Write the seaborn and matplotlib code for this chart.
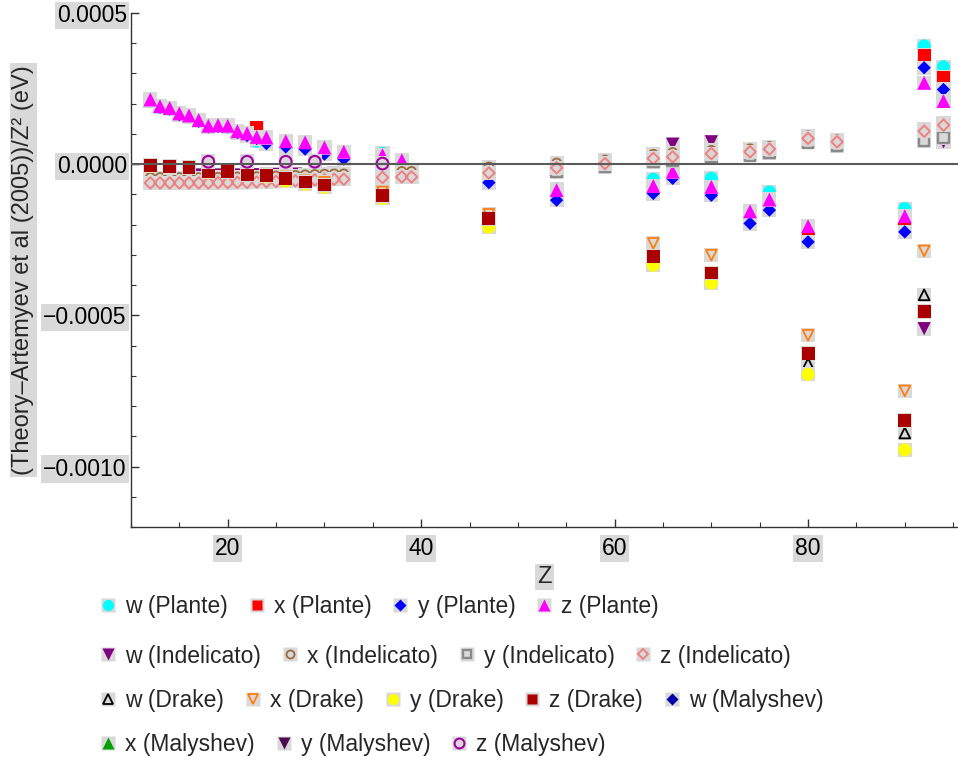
import numpy as np
import pandas as pd
import matplotlib
matplotlib.use("Agg")
import matplotlib.pyplot as plt
import seaborn as sns
from matplotlib.lines import Line2D
from matplotlib.legend_handler import HandlerTuple
from matplotlib.ticker import FixedLocator, MultipleLocator, FuncFormatter

# values in units of 1e-4 eV
UNIT = 1e-4

# Plante
Z_PL = [12, 13, 14, 15, 16, 17, 18, 19, 20, 21, 22, 23, 24, 26, 28, 30, 32, 36, 38,
        47, 54, 64, 66, 70, 74, 76, 80, 90, 92, 94]
w_PL = [2.12, 1.90, 1.84, 1.66, 1.59, 1.44, 1.25, 1.27, 1.25, 1.07, 0.97, 0.76, 0.74, 0.70, 0.66, 0.49, 0.36, 0.36, 0.15,
        -0.15, -0.83, -0.50, -0.22, -0.47, -1.55, -0.92, -2.05, -1.47, 3.91, 3.22]
x_PL = [2.15, 1.93, 1.87, 1.69, 1.62, 1.47, 1.28, 1.30, 1.28, 1.10, 1.01, 1.21, 0.87, 0.74, 0.70, 0.53, 0.39, 0.30, 0.12,
        -0.20, -0.88, -0.72, -0.25, -0.75, -1.57, -1.18, -2.32, -1.94, 3.61, 2.87]
y_PL = [2.10, 1.88, 1.82, 1.64, 1.57, 1.42, 1.23, 1.25, 1.23, 1.05, 0.95, 0.85, 0.68, 0.57, 0.50, 0.33, 0.17, 0.25, 0.08,
        -0.61, -1.19, -0.97, -0.47, -1.03, -1.96, -1.52, -2.57, -2.24, 3.19, 2.47]
z_PL = [2.14, 1.92, 1.86, 1.68, 1.61, 1.46, 1.27, 1.29, 1.27, 1.09, 1.02, 0.90, 0.88, 0.76, 0.72, 0.55, 0.41, 0.30, 0.13,
        -0.25, -0.86, -0.72, -0.25, -0.75, -1.56, -1.17, -2.05, -1.72, 2.69, 2.09]

# Indelicato
Z_IN = [12, 13, 14, 15, 16, 17, 18, 19, 20, 21, 22, 23, 24, 25, 26, 27, 28, 29, 30, 31, 32,
        36, 38, 39, 47, 54, 59, 64, 66, 70, 74, 76, 80, 83, 92, 94]
w_IN = [-0.50, -0.50, -0.50, -0.50, -0.50, -0.36, -0.45, -0.36, -0.45, -0.36, -0.45, -0.35, -0.45, -0.34, -0.40, -0.33, -0.40, -0.32, -0.40, -0.31, -0.40,
        -0.40, -0.35, -0.35, -0.25, -0.08, 0.05, 0.22, 0.66, 0.74, 0.41, 0.50, 0.85, 0.74, -5.44, 0.74]
x_IN = [-0.45, -0.45, -0.45, -0.45, -0.45, -0.45, -0.45, -0.44, -0.44, -0.43, -0.43, -0.42, -0.41, -0.40, -0.39, -0.38, -0.36, -0.35, -0.34, -0.33, -0.33,
        -0.30, -0.25, -0.25, -0.10, 0.03, 0.13, 0.32, 0.38, 0.45, 0.50, 0.58, 0.93, 0.80, 1.15, 1.35]
y_IN = [-0.62, -0.62, -0.62, -0.62, -0.62, -0.62, -0.62, -0.61, -0.61, -0.60, -0.60, -0.59, -0.58, -0.57, -0.56, -0.55, -0.53, -0.52, -0.51, -0.50, -0.50,
        -0.44, -0.42, -0.42, -0.29, -0.24, -0.10, 0.07, 0.12, 0.23, 0.29, 0.38, 0.72, 0.61, 0.77, 0.88]
z_IN = [-0.62, -0.62, -0.62, -0.62, -0.62, -0.62, -0.62, -0.61, -0.61, -0.60, -0.60, -0.59, -0.58, -0.57, -0.56, -0.55, -0.53, -0.52, -0.51, -0.50, -0.50,
        -0.44, -0.42, -0.42, -0.29, -0.12, 0.02, 0.19, 0.24, 0.35, 0.41, 0.50, 0.85, 0.74, 1.09, 1.29]

# Drake
Z_DR = [12, 14, 16, 18, 20, 22, 24, 26, 28, 30, 36, 47, 64, 70, 80, 90, 92]
w_DR = [-0.04, -0.09, -0.12, -0.23, -0.25, -0.34, -0.37, -0.47, -0.59, -0.69, -1.04, -1.80, -3.10, -3.65, -6.60, -8.89, -4.32]
x_DR = [-0.02, -0.07, -0.10, -0.21, -0.23, -0.31, -0.33, -0.42, -0.55, -0.60, -0.92, -1.66, -2.62, -3.01, -5.66, -7.50, -2.87]
y_DR = [-0.06, -0.11, -0.14, -0.25, -0.27, -0.36, -0.40, -0.56, -0.66, -0.76, -1.13, -2.08, -3.34, -3.93, -6.95, -9.45, -4.90]
z_DR = [-0.04, -0.09, -0.12, -0.23, -0.25, -0.34, -0.37, -0.47, -0.59, -0.69, -1.04, -1.80, -3.05, -3.60, -6.25, -8.48, -4.87]

# Malyshev
Z_MA = [18, 22, 26, 29, 36]
w_MA = [0.06, 0.06, 0.06, 0.06, 0.00]
x_MA = [0.09, 0.09, 0.09, 0.09, 0.03]
y_MA = [0.07, 0.07, 0.07, 0.07, 0.01]
z_MA = [0.08, 0.08, 0.08, 0.08, 0.02]

LABELS = ["w (Plante)", "x (Plante)", "y (Plante)", "z (Plante)",
          "w (Indelicato)", "x (Indelicato)", "y (Indelicato)", "z (Indelicato)",
          "w (Drake)", "x (Drake)", "y (Drake)", "z (Drake)", "w (Malyshev)",
          "x (Malyshev)", "y (Malyshev)", "z (Malyshev)"]
LEGEND_ROWS = [[0, 1, 2, 3], [4, 5, 6, 7], [8, 9, 10, 11, 12], [13, 14, 15]]

# style per series: marker, color, filled, scatter size, edge width
STYLES = [
    ("o", "#00ffff", True, 90, 0), ("s", "#ff0000", True, 86, 0),
    ("D", "#0000ff", True, 46, 0), ("^", "#ff00ff", True, 100, 0),
    ("v", "#800080", True, 90, 0), ("o", "#9c6b3c", False, 46, 1.3),
    ("s", "#8a8a8a", False, 56, 1.7), ("D", "#f08080", False, 34, 1.4),
    ("^", "#000000", False, 60, 1.3), ("v", "#ff7f0e", False, 60, 1.3),
    ("o", "#ffff00", True, 90, 0), ("s", "#aa0000", True, 86, 0),
    ("D", "#0000aa", True, 46, 0), ("^", "#00a000", True, 90, 0),
    ("v", "#4d0a50", True, 90, 0), ("o", "#a000a0", False, 70, 1.5),
]
DATA = [(Z_PL, w_PL), (Z_PL, x_PL), (Z_PL, y_PL), (Z_PL, z_PL),
        (Z_IN, w_IN), (Z_IN, x_IN), (Z_IN, y_IN), (Z_IN, z_IN),
        (Z_DR, w_DR), (Z_DR, x_DR), (Z_DR, y_DR), (Z_DR, z_DR),
        (Z_MA, w_MA), (Z_MA, x_MA), (Z_MA, y_MA), (Z_MA, z_MA)]

BOX = "#d9d9d9"
FS = 16.5
FS_YLAB = 17

sns.set_theme(style="white")
plt.rcParams["font.family"] = ["Liberation Sans", "DejaVu Sans"]
plt.rcParams["axes.unicode_minus"] = True

W, H = 958, 763
fig = plt.figure(figsize=(W / 100, H / 100), dpi=100)
ax = fig.add_axes([131 / W, 1 - 527 / H, 827 / W, 514 / H])

for i, ((zs, vals), (mk, col, filled, s, lw)) in enumerate(zip(DATA, STYLES)):
    df = pd.DataFrame({"Z": zs, "v": np.array(vals) * UNIT})
    sns.scatterplot(data=df, x="Z", y="v", marker="s", s=104, color=BOX,
                    edgecolor="none", linewidth=0, ax=ax, zorder=3 + 2 * i, legend=False)
    if filled:
        sns.scatterplot(data=df, x="Z", y="v", marker=mk, s=s, color=col,
                        edgecolor="none", linewidth=0, ax=ax, zorder=4 + 2 * i, legend=False)
    else:
        sns.scatterplot(data=df, x="Z", y="v", marker=mk, s=s, color=col, facecolor="none",
                        edgecolor=col, linewidth=lw, ax=ax, zorder=4 + 2 * i, legend=False)

ax.axhline(0, color="#5a5a5a", lw=1.5, zorder=100)

ax.set_xlim(10, 95.5)
ax.set_ylim(-0.0012, 0.0005)
ax.xaxis.set_major_locator(FixedLocator([20, 40, 60, 80]))
ax.xaxis.set_minor_locator(MultipleLocator(5))
ax.yaxis.set_major_locator(FixedLocator([-0.001, -0.0005, 0.0, 0.0005]))
ax.yaxis.set_minor_locator(MultipleLocator(0.0001))
ax.yaxis.set_major_formatter(FuncFormatter(
    lambda v, p: ("%.4f" % (0.0 if abs(v) < 1e-12 else v)).replace("-", "\u2212")))

sns.despine(ax=ax)
for sp in ("left", "bottom"):
    ax.spines[sp].set_color("#333333")
    ax.spines[sp].set_linewidth(1.0)
ax.tick_params(which="both", direction="in", left=True, bottom=True,
               colors="#333333", labelcolor="black", labelsize=FS)
ax.tick_params(which="major", length=6, width=1.0)
ax.tick_params(which="minor", length=3.5, width=0.8)
ax.tick_params(axis="y", pad=3)
ax.tick_params(axis="x", pad=7)

ax.set_xlabel("Z", fontsize=FS_YLAB, bbox=dict(facecolor=BOX, edgecolor="none", pad=1.5))
ax.set_ylabel("(Theory\u2013Artemyev et al (2005))/Z\u00b2 (eV)", fontsize=FS_YLAB,
              bbox=dict(facecolor=BOX, edgecolor="none", pad=1.5))
ax.xaxis.label.set_va("center")
ax.yaxis.label.set_va("center")
ax.xaxis.set_label_coords(0.5, (527 - 577) / 514)
ax.yaxis.set_label_coords((23.5 - 131) / 827, 0.5)

# legend rows
row_y = [607, 656, 701, 745]
for r, idxs in enumerate(LEGEND_ROWS):
    handles = []
    for i in idxs:
        mk, col, filled, s, lw = STYLES[i]
        box = Line2D([], [], ls="none", marker="s", ms=9.6, color=BOX, mec="none")
        ms = np.sqrt(s) * 0.85
        if filled:
            m = Line2D([], [], ls="none", marker=mk, ms=ms, color=col, mec="none")
        else:
            m = Line2D([], [], ls="none", marker=mk, ms=ms, mfc="none", mec=col, mew=lw)
        handles.append((box, m))
    fig.legend(handles, [LABELS[i] for i in idxs], loc="center left",
               bbox_to_anchor=(99 / W, 1 - row_y[r] / H), ncol=len(idxs), frameon=False,
               fontsize=FS, handlelength=0.8, handletextpad=0.35, columnspacing=0.85,
               borderpad=0, borderaxespad=0, handler_map={tuple: HandlerTuple(ndivide=1)})

fig.canvas.draw()
for lab in ax.get_xticklabels() + ax.get_yticklabels():
    lab.set_bbox(dict(facecolor=BOX, edgecolor="none", pad=1.5))

fig.savefig("out.png", dpi=100)
